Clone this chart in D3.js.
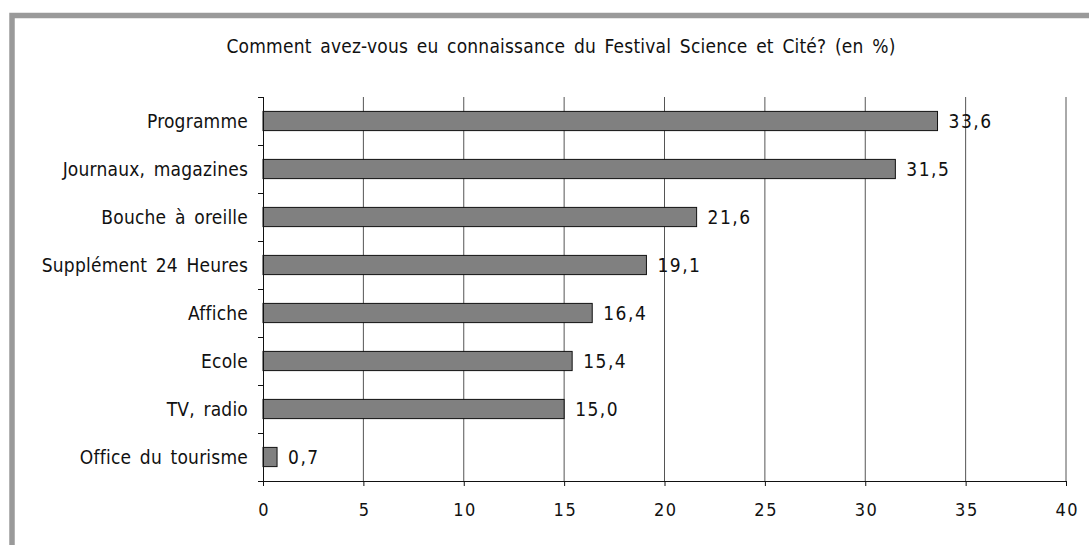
<!DOCTYPE html>
<html>
<head>
<meta charset="utf-8">
<script src="https://cdn.jsdelivr.net/npm/d3@7"></script>
<style>
  body { margin: 0; background: #fff; }
  text { font-family: "DejaVu Sans Condensed", "DejaVu Sans", sans-serif; fill: #111; }
</style>
</head>
<body>
<div id="chart"></div>
<script>
// Chart data
var categories = ["Programme", "Journaux, magazines", "Bouche à oreille", "Supplément 24 Heures",
    "Affiche", "Ecole", "TV, radio", "Office du tourisme"];
var values = [33.6, 31.5, 21.6, 19.1, 16.4, 15.4, 15.0, 0.7];
var valueLabels = ["33,6", "31,5", "21,6", "19,1", "16,4", "15,4", "15,0", "0,7"];
var xTicks = [0, 5, 10, 15, 20, 25, 30, 35, 40];
var title = "Comment avez-vous eu connaissance du Festival Science et Cité? (en %)";

var svgWidth = 1089;
var svgHeight = 545;

var margin = { top: 97, left: 263, right: 23, bottom: 64 };
var chartWidth = svgWidth - margin.left - margin.right;
var chartHeight = svgHeight - margin.top - margin.bottom;

var svg = d3.select("#chart")
    .append("svg")
    .attr("width", svgWidth)
    .attr("height", svgHeight);

// gray frame (top and left edges visible)
svg.append("path")
    .attr("d", "M12,560 L12,15.5 L1100,15.5")
    .attr("fill", "none")
    .attr("stroke", "#9a9a9a")
    .attr("stroke-width", 5.5);

svg.append("text")
    .attr("x", 561)
    .attr("y", 53)
    .attr("text-anchor", "middle")
    .style("font-size", "19px")
    .style("letter-spacing", "0.2px")
    .style("word-spacing", "3px")
    .text(title);

var chartGroup = svg.append("g")
    .attr("transform", `translate(${margin.left}, ${margin.top})`);

var xScale = d3.scaleLinear()
    .domain([0, 40])
    .range([0, chartWidth]);

var yScale = d3.scaleBand()
    .domain(categories)
    .range([0, chartHeight])
    .paddingInner(0.6)
    .paddingOuter(0.3);

// vertical gridlines
chartGroup.append("g")
    .selectAll("line")
    .data(xTicks.slice(1))
    .enter()
    .append("line")
    .attr("x1", d => xScale(d))
    .attr("x2", d => xScale(d))
    .attr("y1", 0)
    .attr("y2", chartHeight)
    .attr("stroke", "#555")
    .attr("stroke-width", 1);

// bars
chartGroup.append("g")
    .selectAll("rect")
    .data(values)
    .enter()
    .append("rect")
    .attr("x", xScale(0))
    .attr("y", (d, i) => yScale(categories[i]))
    .attr("width", d => xScale(d))
    .attr("height", yScale.bandwidth())
    .attr("fill", "#808080")
    .attr("stroke", "#111")
    .attr("stroke-width", 1);

// value labels
chartGroup.append("g")
    .selectAll("text")
    .data(values)
    .enter()
    .append("text")
    .attr("x", d => xScale(d) + 11)
    .attr("y", (d, i) => yScale(categories[i]) + yScale.bandwidth() / 2)
    .attr("dy", "0.38em")
    .style("font-size", "19px")
    .style("letter-spacing", "1.5px")
    .text((d, i) => valueLabels[i]);

// x axis
var bottomAxis = d3.axisBottom(xScale)
    .tickValues(xTicks)
    .tickSize(5)
    .tickPadding(17)
    .tickFormat(d3.format("d"));

var xAxis = chartGroup.append("g")
    .attr("transform", `translate(0, ${chartHeight})`)
    .call(bottomAxis);
xAxis.select(".domain").attr("d", `M-5,0.5H${chartWidth}`).attr("stroke", "#111");
xAxis.selectAll(".tick line").attr("stroke", "#111");
xAxis.selectAll("text")
    .attr("font-family", null)
    .attr("font-size", null)
    .style("font-size", "18px")
    .style("letter-spacing", "1.5px")
    .attr("dx", "0.75px")
    .attr("fill", "#111");

// y axis: ticks at band boundaries
var yEdge = d3.scaleLinear().domain([0, categories.length]).range([0, chartHeight]);
var leftAxis = d3.axisLeft(yEdge)
    .tickValues(d3.range(categories.length + 1))
    .tickSize(5)
    .tickFormat("");
var yAxis = chartGroup.append("g").call(leftAxis);
yAxis.select(".domain").attr("d", `M0.5,0V${chartHeight}`).attr("stroke", "#111");
yAxis.selectAll(".tick line").attr("stroke", "#111");

// category labels
chartGroup.append("g")
    .selectAll("text")
    .data(categories)
    .enter()
    .append("text")
    .attr("x", -15)
    .attr("y", d => yScale(d) + yScale.bandwidth() / 2)
    .attr("dy", "0.36em")
    .attr("text-anchor", "end")
    .style("font-size", "19px")
    .style("letter-spacing", "0.2px")
    .style("word-spacing", "3px")
    .text(d => d);
</script>
</body>
</html>
